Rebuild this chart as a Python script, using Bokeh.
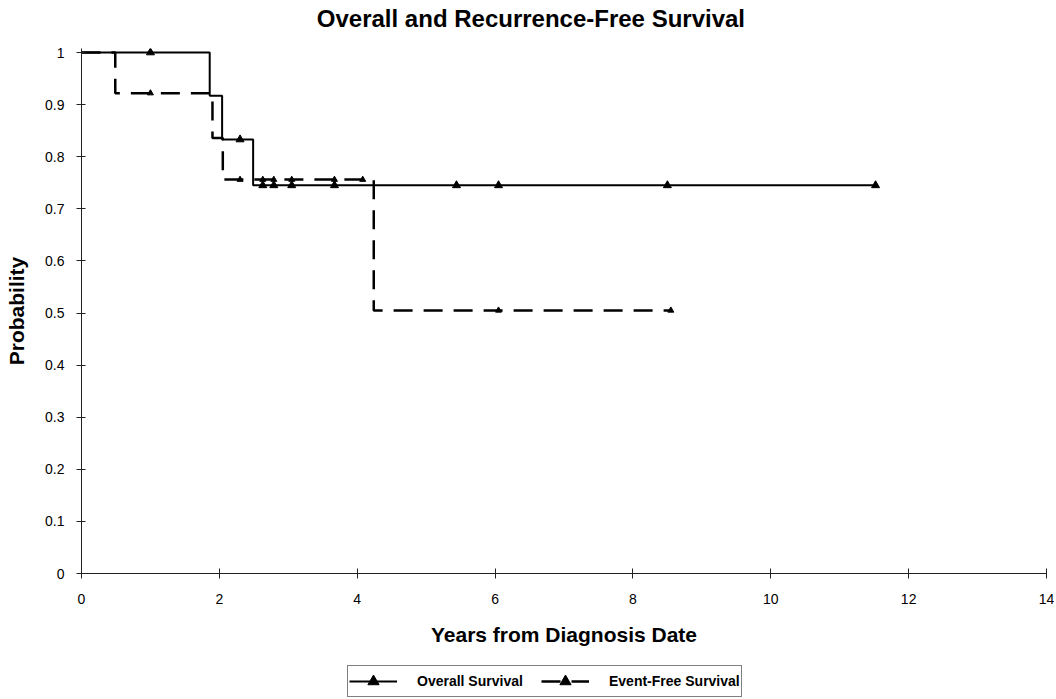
from bokeh.plotting import figure
from bokeh.models import Range1d, FixedTicker, Legend, LegendItem, Label
from bokeh.layouts import column
from bokeh.embed import file_html
from bokeh.resources import INLINE

# ---- data ----
os_time = [0.0, 1.86, 2.04, 2.49, 11.55]
os_surv = [1.0, 0.917, 0.833, 0.745, 0.745]
os_cens_time = [1.0, 2.30, 2.63, 2.79, 3.05, 3.67, 5.44, 6.05, 8.50, 11.52]
os_cens_surv = [1.0, 0.833, 0.745, 0.745, 0.745, 0.745, 0.745, 0.745, 0.745, 0.745]

efs_time = [0.0, 0.49, 1.90, 2.05, 4.24, 8.55]
efs_surv = [1.0, 0.922, 0.836, 0.756, 0.505, 0.505]
efs_cens_time = [1.0, 2.30, 2.63, 2.79, 3.05, 3.67, 4.08, 6.05, 8.55]
efs_cens_surv = [0.922, 0.756, 0.756, 0.756, 0.756, 0.756, 0.756, 0.505, 0.505]

x_ticks = [0, 2, 4, 6, 8, 10, 12, 14]
y_ticks = [0, 0.1, 0.2, 0.3, 0.4, 0.5, 0.6, 0.7, 0.8, 0.9, 1]
y_tick_labels = ["0", "0.1", "0.2", "0.3", "0.4", "0.5", "0.6", "0.7", "0.8", "0.9", "1"]

title_text = "Overall and Recurrence-Free Survival"
x_title = "Years from Diagnosis Date"
y_title = "Probability"
series_names = ["Overall Survival", "Event-Free Survival"]

FONT = "Liberation Sans"
W = 1054
X_MAX = 14

OS_LINE = dict(line_color="black", line_width=2)
EFS_LINE = dict(line_color="black", line_width=2.5, line_dash="19 11")
OS_MARK = dict(marker="triangle", size=8, fill_color="black", line_color="black")
EFS_MARK = dict(marker="triangle", size=6, fill_color="black", line_color="black")


def strip(height):
    f = figure(width=W, height=height, output_backend="svg", toolbar_location=None,
               x_axis_type=None, y_axis_type=None,
               min_border_left=81, min_border_right=8, min_border_top=0,
               min_border_bottom=0,
               x_range=Range1d(0, X_MAX), y_range=Range1d(0, height))
    f.title = None
    f.outline_line_color = None
    f.background_fill_color = "white"
    f.border_fill_color = "white"
    return f


# ---- title strip (title centred on the whole chart, as in the original) ----
pt = strip(32)
pt.add_layout(Label(x=6.52, y=14, text=title_text, text_font=FONT,
                    text_font_size="24px", text_font_style="bold",
                    text_align="center", text_baseline="middle",
                    text_color="black"))

# ---- main chart ----
p = figure(width=W, height=628, output_backend="svg", toolbar_location=None,
           x_range=Range1d(0, X_MAX), y_range=Range1d(0, 1 + 4 / 521.0),
           min_border_left=81, min_border_right=8, min_border_top=16,
           min_border_bottom=87)
p.title = None
p.outline_line_color = None
p.xgrid.visible = False
p.ygrid.visible = False
p.background_fill_color = "white"
p.border_fill_color = "white"

for ax in (p.xaxis[0], p.yaxis[0]):
    ax.axis_line_color = "#222222"
    ax.axis_line_width = 1
    ax.major_tick_line_color = "#222222"
    ax.major_tick_line_width = 1
    ax.minor_tick_line_color = None
    ax.major_label_text_font = FONT
    ax.major_label_text_font_size = "14px"
    ax.major_label_text_color = "black"
    ax.axis_label_text_font = FONT
    ax.axis_label_text_font_size = "21px"
    ax.axis_label_text_font_style = "bold"
    ax.axis_label_text_color = "black"

p.xaxis.ticker = FixedTicker(ticks=x_ticks)
p.xaxis.major_tick_in = 5
p.xaxis.major_tick_out = 5
p.xaxis.major_label_standoff = 15
p.xaxis.axis_label = x_title
p.xaxis.axis_label_standoff = 16

p.yaxis.ticker = FixedTicker(ticks=y_ticks)
p.yaxis.major_label_overrides = {t: s for t, s in zip(y_ticks, y_tick_labels)}
p.yaxis.major_tick_in = 4
p.yaxis.major_tick_out = 5
p.yaxis.major_label_standoff = 12
p.yaxis.axis_label = y_title
p.yaxis.axis_label_standoff = 14

p.step(os_time, os_surv, mode="after", **OS_LINE)
p.scatter(os_cens_time, os_cens_surv, **OS_MARK)
p.step(efs_time, efs_surv, mode="after", **EFS_LINE)
p.scatter(efs_cens_time, efs_cens_surv, **EFS_MARK)

# ---- legend strip (legend-only renderers, nothing drawn in the frame) ----
pl = strip(38)
nan = [float("nan")]
l1 = pl.line(x=nan, y=nan, **OS_LINE)
m1 = pl.scatter(x=nan, y=nan, **OS_MARK)
l2 = pl.line(x=nan, y=nan, **EFS_LINE)
m2 = pl.scatter(x=nan, y=nan, **EFS_MARK)

legend = Legend(items=[LegendItem(label=series_names[0], renderers=[l1, m1]),
                       LegendItem(label=series_names[1], renderers=[l2, m2])],
                orientation="horizontal", location=(266, 1),
                border_line_color="black", border_line_width=1,
                background_fill_color="white", background_fill_alpha=1,
                padding=1, margin=0, spacing=0,
                glyph_width=48, glyph_height=28, label_height=28, label_width=124,
                label_standoff=20,
                label_text_font=FONT, label_text_font_size="14px",
                label_text_font_style="bold", label_text_color="black")
pl.add_layout(legend)

layout = column(pt, p, pl, spacing=0)
open("out.html", "w").write(file_html(layout, INLINE))
